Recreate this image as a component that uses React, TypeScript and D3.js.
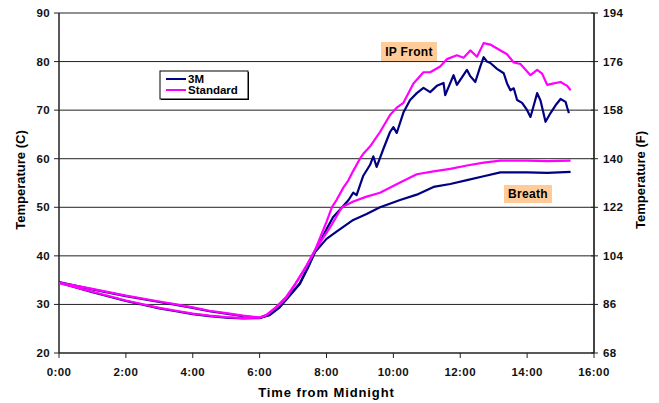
import React, { useEffect } from 'react'
import * as d3 from 'd3'

// [hours from midnight, temperature C]
const ipFrontStandard: [number, number][] = [
  [0, 34.4], [1, 32.6], [2, 30.8], [3, 29.3], [3.5, 28.7], [4, 28.1], [4.5, 27.7], [5, 27.4], [5.5, 27.2],
  [6, 27.3], [6.2, 27.8], [6.5, 29.5], [6.8, 31.6], [7.07, 34.3], [7.4, 37.8], [7.66, 41.2], [8.0, 47],
  [8.16, 50], [8.3, 51.5], [8.5, 54], [8.65, 55.5], [8.8, 57.5], [9.0, 60], [9.1, 61], [9.3, 62.5],
  [9.6, 65.5], [9.9, 69], [10.1, 70.5], [10.3, 71.5], [10.6, 75.5], [10.9, 77.8], [11.1, 77.8], [11.4, 79],
  [11.6, 80.5], [11.9, 81.3], [12.1, 80.8], [12.3, 82.3], [12.5, 81], [12.7, 83.8], [12.9, 83.5], [13.1, 82.7],
  [13.4, 81.5], [13.6, 79.8], [13.8, 79.5], [14.1, 77.2], [14.3, 78.3], [14.45, 77.5], [14.6, 75.2],
  [14.8, 75.5], [15.0, 75.8], [15.2, 75], [15.3, 74.1],
]

const ipFront3M: [number, number][] = [
  [0, 34.5], [1, 32.5], [2, 30.7], [3, 29.2], [3.5, 28.6], [4, 28.0], [4.5, 27.6], [5, 27.3], [5.5, 27.1],
  [6, 27.2], [6.3, 27.9], [6.6, 29.5], [6.9, 32], [7.2, 34.3], [7.45, 37.8], [7.66, 41], [8, 45.5],
  [8.2, 48], [8.4, 49.5], [8.66, 51.5], [8.8, 53], [8.9, 52.5], [9.1, 56.5], [9.3, 58.7], [9.4, 60.5],
  [9.5, 58.3], [9.7, 62], [9.9, 65.5], [10.0, 66.5], [10.1, 65.3], [10.3, 69.5], [10.5, 72.1], [10.7, 73.5],
  [10.9, 74.6], [11.1, 73.7], [11.3, 75], [11.5, 75.6], [11.55, 73.1], [11.8, 77.2], [11.9, 75.2], [12.2, 78.3],
  [12.3, 77], [12.45, 75.8], [12.6, 79], [12.7, 80.9], [12.8, 80], [12.9, 79.7], [13.1, 78.5], [13.3, 77.6],
  [13.4, 75.5], [13.5, 74.1], [13.6, 74.5], [13.7, 72.1], [13.85, 71.5], [14.0, 70], [14.1, 68.6], [14.2, 71],
  [14.3, 73.5], [14.4, 72], [14.55, 67.6], [14.7, 69.4], [14.85, 71], [15.0, 72.3], [15.15, 71.7],
  [15.2, 70.5], [15.25, 69.4],
]

const breathStandard: [number, number][] = [
  [0, 34.5], [1, 33.2], [2, 31.8], [3, 30.6], [3.5, 30.0], [4, 29.4], [4.5, 28.7], [5, 28.2], [5.5, 27.7],
  [6, 27.3], [6.2, 27.8], [6.5, 29.4], [6.8, 31.4], [7.07, 34.2], [7.4, 38], [7.66, 41.2], [8.12, 46],
  [8.46, 50], [8.8, 51.2], [9.2, 52.2], [9.6, 53], [10.2, 55.1], [10.7, 56.8], [11.2, 57.4], [11.7, 57.9],
  [12.2, 58.6], [12.7, 59.2], [13.2, 59.6], [14, 59.6], [14.6, 59.5], [15.3, 59.6],
]

const breath3M: [number, number][] = [
  [0, 34.6], [1, 33.1], [2, 31.7], [3, 30.5], [3.5, 29.9], [4, 29.3], [4.5, 28.6], [5, 28.1], [5.5, 27.6],
  [6, 27.2], [6.3, 27.8], [6.6, 29.4], [6.9, 31.8], [7.2, 34.2], [7.45, 37.6], [7.66, 40.8], [8.0, 43.5],
  [8.3, 45], [8.8, 47.4], [9.2, 48.6], [9.6, 50], [10.2, 51.5], [10.7, 52.6], [11.2, 54.2], [11.7, 54.8],
  [12.2, 55.6], [12.7, 56.4], [13.2, 57.2], [14, 57.2], [14.6, 57.1], [15.3, 57.3],
]

const xTicks = [0, 2, 4, 6, 8, 10, 12, 14, 16]
const yTicksC = [20, 30, 40, 50, 60, 70, 80, 90]
const yTicksF = [68, 86, 104, 122, 140, 158, 176, 194]
const legendItems = [
  { name: '3M', color: '#000080' },
  { name: 'Standard', color: '#FF00FF' },
]

const W = 659
const H = 403
const m = { left: 59, right: 594, top: 13, bottom: 353 }
const font = '"Liberation Sans", Arial, sans-serif'

const App: React.FC = () => {
  useEffect(() => {
    document.body.style.margin = '0'
  }, [])

  const x = d3.scaleLinear().domain([0, 16]).range([m.left, m.right])
  const y = d3.scaleLinear().domain([20, 90]).range([m.bottom, m.top])
  const yF = d3.scaleLinear().domain([68, 194]).range([m.bottom, m.top])
  const line = d3
    .line<[number, number]>()
    .x(d => x(d[0]))
    .y(d => y(d[1]))

  const series = [
    { data: breath3M, color: '#000080' },
    { data: ipFront3M, color: '#000080' },
    { data: breathStandard, color: '#FF00FF' },
    { data: ipFrontStandard, color: '#FF00FF' },
  ]

  const fmt = (h: number) => `${h}:00`

  return (
    <svg width={W} height={H} style={{ display: 'block', background: '#fff' }} fontFamily={font}>
      {/* gridlines */}
      {yTicksC.slice(1).map(t => (
        <line key={t} x1={m.left} x2={m.right} y1={y(t)} y2={y(t)} stroke="#222" strokeWidth={1} />
      ))}
      {/* axes */}
      <line x1={m.left} x2={m.left} y1={m.top} y2={m.bottom} stroke="#222" strokeWidth={1.5} />
      <line x1={m.right} x2={m.right} y1={m.top} y2={m.bottom} stroke="#444" strokeWidth={2} />
      <line x1={m.left} x2={m.right} y1={m.bottom} y2={m.bottom} stroke="#222" strokeWidth={1.5} />
      {yTicksC.map(t => (
        <g key={t}>
          <line x1={m.left - 5} x2={m.left} y1={y(t)} y2={y(t)} stroke="#222" strokeWidth={1} />
          <text x={m.left - 9} y={y(t)} dy="0.35em" textAnchor="end" fontSize={11.5} letterSpacing={0.4} fontWeight="bold" fill="#111">
            {t}
          </text>
        </g>
      ))}
      {yTicksF.map(t => (
        <g key={t}>
          <line x1={m.right - 3} x2={m.right + 4} y1={yF(t)} y2={yF(t)} stroke="#222" strokeWidth={1} />
          <text x={m.right + 9} y={yF(t)} dy="0.35em" textAnchor="start" fontSize={11.5} letterSpacing={0.4} fontWeight="bold" fill="#111">
            {t}
          </text>
        </g>
      ))}
      {xTicks.map(t => (
        <g key={t}>
          <line x1={x(t)} x2={x(t)} y1={m.bottom} y2={m.bottom + 5} stroke="#222" strokeWidth={1} />
          <text x={x(t)} y={m.bottom + 19} dy="0.35em" textAnchor="middle" fontSize={11.5} letterSpacing={0.4} fontWeight="bold" fill="#111">
            {fmt(t)}
          </text>
        </g>
      ))}
      {/* titles */}
      <text x={(m.left + m.right) / 2} y={392} dy="0.35em" textAnchor="middle" fontSize={13} letterSpacing={0.9} fontWeight="bold">
        Time from Midnight
      </text>
      <text
        transform={`translate(20,${(m.top + m.bottom) / 2 - 3}) rotate(-90)`}
        dy="0.35em"
        textAnchor="middle"
        fontSize={13}
        fontWeight="bold"
      >
        Temperature (C)
      </text>
      <text
        transform={`translate(640,${(m.top + m.bottom) / 2 - 3}) rotate(-90)`}
        dy="0.35em"
        textAnchor="middle"
        fontSize={13}
        fontWeight="bold"
      >
        Temperature (F)
      </text>
      {/* series */}
      {series.map((s, i) => (
        <path key={i} d={line(s.data) || ''} fill="none" stroke={s.color} strokeWidth={2.2} strokeLinejoin="round" />
      ))}
      {/* annotation boxes */}
      <rect x={381} y={42} width={56} height={19} fill="#FFCC99" />
      <text x={409} y={51.5} dy="0.35em" textAnchor="middle" fontSize={12} letterSpacing={0.3} fontWeight="bold">
        IP Front
      </text>
      <rect x={504} y={185} width={48} height={18} fill="#FFCC99" />
      <text x={528} y={194} dy="0.35em" textAnchor="middle" fontSize={12} letterSpacing={0.3} fontWeight="bold">
        Breath
      </text>
      {/* legend */}
      <rect x={161} y={72} width={88} height={28} fill="#000" />
      <rect x={160} y={71} width={88} height={28} fill="#fff" stroke="#000" strokeWidth={1} />
      {legendItems.map((it, i) => (
        <g key={it.name}>
          <line x1={166} x2={186} y1={79 + i * 11} y2={79 + i * 11} stroke={it.color} strokeWidth={2} />
          <text x={188} y={79 + i * 11} dy="0.35em" fontSize={11.5} fontWeight="bold">
            {it.name}
          </text>
        </g>
      ))}
    </svg>
  )
}

export default App
